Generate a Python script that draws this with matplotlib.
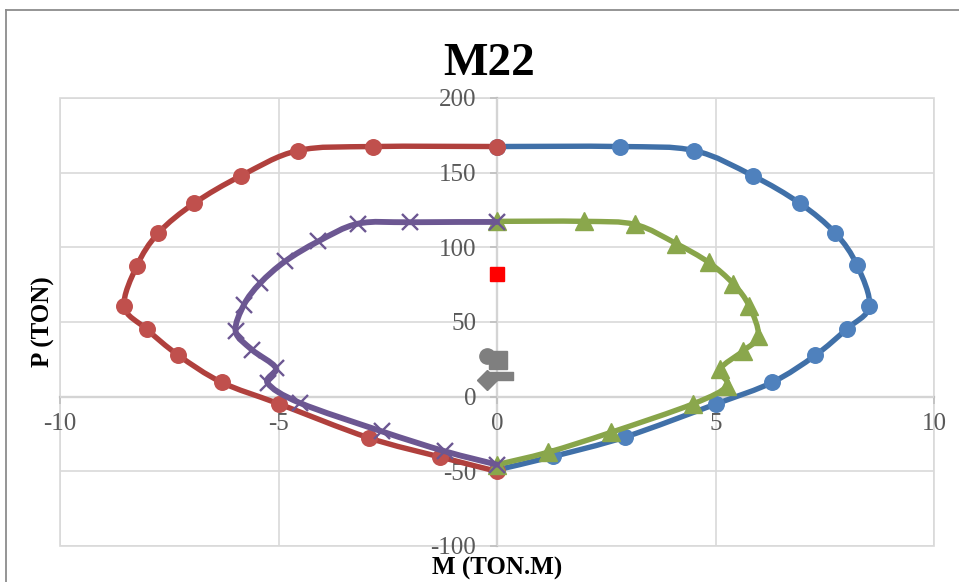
import numpy as np
import matplotlib
matplotlib.use("Agg")
import matplotlib.pyplot as plt
from matplotlib.path import Path
from matplotlib.patches import PathPatch, Rectangle
from matplotlib.lines import Line2D

# ---------------- data ----------------
blue_m = [0, 2.81, 4.51, 5.85, 6.93, 7.74, 8.24, 8.52, 8.00, 7.28, 6.30, 5.00, 2.93, 1.29, 0]
blue_p = [167.5, 167.5, 164.8, 148.0, 129.5, 109.6, 88.0, 60.5, 45.3, 27.6, 9.6, -5.0, -27.0, -40.0, -49.0]

red_m = [0, -2.83, -4.55, -5.85, -6.93, -7.75, -8.24, -8.53, -8.02, -7.29, -6.30, -5.00, -2.94, -1.30, 0]
red_p = [167.5, 167.5, 164.8, 148.0, 129.5, 109.6, 87.7, 60.5, 45.3, 27.7, 9.6, -4.7, -27.5, -40.4, -50.0]

green_m = [0, 1.99, 3.16, 4.10, 4.84, 5.41, 5.77, 5.98, 5.64, 5.10, 5.26, 4.49, 2.62, 1.17, 0]
green_p = [117.4, 117.4, 115.3, 102.5, 90.0, 75.5, 60.8, 40.8, 30.8, 18.2, 7.2, -4.8, -23.8, -37.2, -45.5]

purple_m = [0, -1.99, -3.17, -4.09, -4.85, -5.42, -5.79, -5.98, -5.61, -5.06, -5.25, -4.51, -2.64, -1.19, 0]
purple_p = [117.0, 116.8, 115.9, 104.0, 90.6, 76.0, 61.6, 43.7, 31.5, 19.2, 9.2, -4.2, -23.2, -36.6, -45.5]

demand_red_m = [0.0]
demand_red_p = [82.4]

gray_circle = (-0.22, 27.3)
gray_square = (0.02, 24.4)
gray_diamond = (-0.22, 11.2)
gray_dash = (0.10, 13.6)

x_ticks = [-10, -5, 0, 5, 10]
y_ticks = [-100, -50, 0, 50, 100, 150, 200]

# ---------------- style ----------------
plt.rcParams['font.family'] = ['Liberation Serif', 'DejaVu Serif']

W, H = 959, 582
fig = plt.figure(figsize=(W / 100, H / 100), dpi=100)
fig.patch.set_facecolor('white')

# outer chart border
fig.add_artist(Line2D([6 / W, 6 / W], [0, 1 - 10 / H], transform=fig.transFigure,
                      color='#8C8C8C', lw=1.3))
fig.add_artist(Line2D([6 / W, 1], [1 - 10 / H, 1 - 10 / H], transform=fig.transFigure,
                      color='#8C8C8C', lw=1.3))

left, right, top, bottom = 60, 934, 98, 546
ax = fig.add_axes([left / W, 1 - bottom / H, (right - left) / W, (bottom - top) / H])
ax.set_xlim(-10, 10)
ax.set_ylim(-100, 200)
ax.set_xticks(x_ticks)
ax.set_yticks(y_ticks)
ax.set_xticklabels([str(v) for v in x_ticks])
ax.set_yticklabels([str(v) for v in y_ticks])
ax.grid(True, color='#D9D9D9', lw=1.2)
ax.set_axisbelow(True)

for s in ['top', 'right']:
    ax.spines[s].set_visible(False)
ax.spines['left'].set_position(('data', 0))
ax.spines['bottom'].set_position(('data', 0))
ax.spines['left'].set_color('#BFBFBF')
ax.spines['bottom'].set_color('#BFBFBF')
ax.spines['left'].set_linewidth(1.6)
ax.spines['bottom'].set_linewidth(1.6)
ax.spines['left'].set_zorder(0.5)
ax.spines['bottom'].set_zorder(0.5)

ax.add_patch(Rectangle((0, 0), 1, 1, transform=ax.transAxes, fill=False,
                       edgecolor='#D9D9D9', lw=1.2, clip_on=False, zorder=0.4))

ax.tick_params(axis='both', direction='out', length=5, width=1.2, color='#BFBFBF',
               labelsize=18, labelcolor='#595959')
ax.tick_params(axis='x', pad=7)
ax.tick_params(axis='y', pad=10)


def smooth_patch(xs, ys, color, lw, z):
    pts = np.column_stack([xs, ys]).astype(float)
    n = len(pts)
    verts = [pts[0]]
    codes = [Path.MOVETO]
    for i in range(n - 1):
        p0 = pts[i - 1] if i > 0 else pts[i]
        p1 = pts[i]
        p2 = pts[i + 1]
        p3 = pts[i + 2] if i + 2 < n else pts[i + 1]
        c1 = p1 + (p2 - p0) / 6.0
        c2 = p2 - (p3 - p1) / 6.0
        verts += [c1, c2, p2]
        codes += [Path.CURVE4] * 3
    patch = PathPatch(Path(verts, codes), facecolor='none', edgecolor=color, lw=lw,
                      capstyle='round', joinstyle='round', zorder=z)
    ax.add_patch(patch)


# series
smooth_patch(blue_m, blue_p, '#4070A8', 3.9, 2)
ax.plot(blue_m, blue_p, ls='none', marker='o', ms=11.2, mfc='#4F81BD', mec='#4F81BD', zorder=2.1)

smooth_patch(red_m, red_p, '#B0403D', 3.9, 3)
ax.plot(red_m, red_p, ls='none', marker='o', ms=11.2, mfc='#C0504D', mec='#C0504D', zorder=3.1)

smooth_patch(green_m, green_p, '#88A54A', 3.9, 4)
ax.plot(green_m, green_p, ls='none', marker='^', ms=13.5, mfc='#8AA74C', mec='#8AA74C', zorder=4.1)

smooth_patch(purple_m, purple_p, '#6C5792', 4.2, 5)
ax.plot(purple_m, purple_p, ls='none', marker='x', ms=12, mew=1.7, mec='#6C5792', zorder=5.1)

# demand points
ax.plot(demand_red_m, demand_red_p, ls='none', marker='s', ms=10, mfc='#FF0000', mec='#FF0000', zorder=6)
gray = '#7F7F7F'
ax.plot([gray_circle[0]], [gray_circle[1]], ls='none', marker='o', ms=11, mfc=gray, mec=gray, zorder=6)
ax.plot([gray_square[0]], [gray_square[1]], ls='none', marker='s', ms=12.5, mfc=gray, mec=gray, zorder=6)
ax.plot([gray_diamond[0]], [gray_diamond[1]], ls='none', marker='D', ms=10, mfc=gray, mec=gray, zorder=6)
dash_marker = [(-1, -0.38), (1, -0.38), (1, 0.38), (-1, 0.38), (-1, -0.38)]
ax.plot([gray_dash[0]], [gray_dash[1]], ls='none', marker=dash_marker, ms=17, mfc=gray, mec=gray, zorder=6)

# texts
fig.text(489 / W, 1 - 75 / H, 'M22', ha='center', va='baseline', fontsize=34,
         fontweight='bold', color='black')
fig.text(497 / W, 1 - 575 / H, 'M (TON.M)', ha='center', va='baseline', fontsize=18,
         fontweight='bold', color='black')
fig.text(43 / W, 1 - 322 / H, 'P (TON)', ha='center', va='center', rotation=90,
         fontsize=18, fontweight='bold', color='black')

fig.savefig('out.png', dpi=100)
